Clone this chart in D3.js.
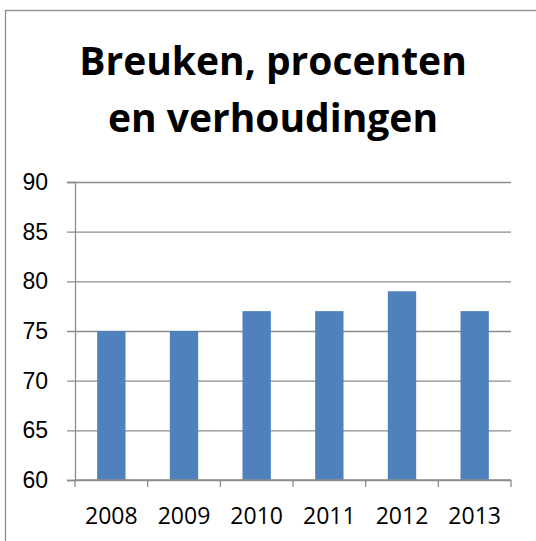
<!DOCTYPE html>
<html lang="nl">
<head>
<meta charset="UTF-8">
<title>Breuken, procenten en verhoudingen</title>
<script src="https://d3js.org/d3.v7.min.js"></script>
<style>
    body { margin: 0; background: #fff; font-family: "Open Sans", sans-serif; }
    .tick-label { font-size: 23px; fill: #000; }
    .title { font-size: 39px; font-weight: bold; fill: #000; }
</style>
</head>
<body>
<div id="chart"></div>
<script>
    // Data
    const years = ["2008", "2009", "2010", "2011", "2012", "2013"];
    const values = [75, 75, 77, 77, 79, 77];
    const yTicks = [60, 65, 70, 75, 80, 85, 90];
    const titleLines = ["Breuken, procenten", "en verhoudingen"];

    const W = 536, H = 541;
    const plot = { left: 75, right: 511, top: 182, bottom: 480 };
    const gridColor = "#8c8c8c";

    const svg = d3.select("#chart").append("svg")
        .attr("width", W)
        .attr("height", H);

    // outer frame
    svg.append("rect")
        .attr("x", 5.5).attr("y", 10.5)
        .attr("width", 700).attr("height", 700)
        .attr("fill", "none")
        .attr("stroke", gridColor)
        .attr("stroke-width", 1.3);

    // title
    svg.selectAll(".title")
        .data(titleLines)
        .enter().append("text")
        .attr("class", "title")
        .attr("x", 273)
        .attr("y", (d, i) => 75 + i * 57)
        .attr("text-anchor", "middle")
        .text(d => d);

    // scales
    const x = d3.scaleBand()
        .domain(years)
        .range([plot.left, plot.right])
        .padding(0);

    const y = d3.scaleLinear()
        .domain([60, 90])
        .range([plot.bottom, plot.top]);

    // gridlines + y ticks
    const yAxis = svg.append("g")
        .attr("transform", `translate(${plot.left},0)`)
        .call(d3.axisLeft(y).tickValues(yTicks).tickSize(8).tickPadding(19).tickFormat(d3.format("d")));
    yAxis.select(".domain").attr("stroke", gridColor).attr("stroke-width", 1.3);
    yAxis.selectAll(".tick line")
        .attr("x2", plot.right - plot.left)
        .attr("x1", -8)
        .attr("stroke", gridColor)
        .attr("stroke-width", 1.3);
    yAxis.selectAll(".tick text")
        .attr("class", "tick-label")
        .attr("font-family", null)
        .attr("font-size", null);

    // bars
    const barW = x.bandwidth() * 0.39;
    svg.selectAll(".bar")
        .data(values)
        .enter().append("rect")
        .attr("class", "bar")
        .attr("x", (d, i) => x(years[i]) + (x.bandwidth() - barW) / 2)
        .attr("y", d => y(d))
        .attr("width", barW)
        .attr("height", d => y(60) - y(d))
        .attr("fill", "#4f81bd");

    // x axis: ticks at category boundaries
    const xAxisG = svg.append("g");
    xAxisG.append("line")
        .attr("x1", plot.left).attr("x2", plot.right)
        .attr("y1", y(60)).attr("y2", y(60))
        .attr("stroke", gridColor).attr("stroke-width", 1.3);
    const bounds = years.map(d => x(d)).concat([plot.right]);
    xAxisG.selectAll(".xtick")
        .data(bounds)
        .enter().append("line")
        .attr("x1", d => d).attr("x2", d => d)
        .attr("y1", y(60)).attr("y2", y(60) + 7)
        .attr("stroke", gridColor).attr("stroke-width", 1.3);
    xAxisG.selectAll(".xlabel")
        .data(years)
        .enter().append("text")
        .attr("class", "tick-label")
        .attr("x", d => x(d) + x.bandwidth() / 2)
        .attr("y", 524)
        .attr("text-anchor", "middle")
        .text(d => d);
</script>
</body>
</html>
